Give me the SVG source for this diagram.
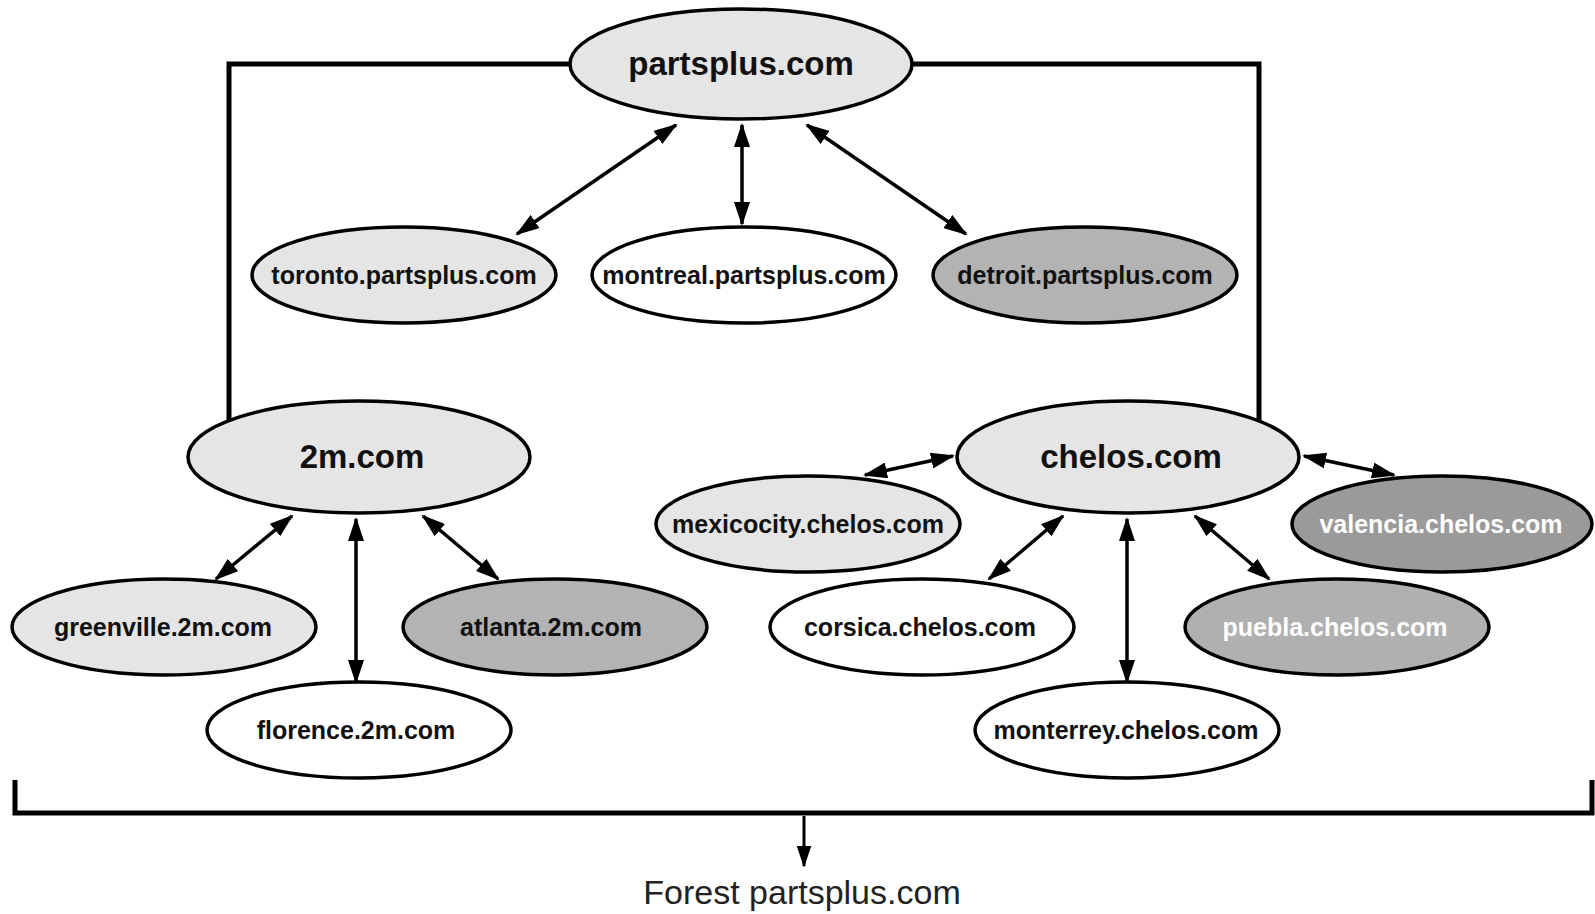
<svg xmlns="http://www.w3.org/2000/svg" width="1595" height="914" viewBox="0 0 1595 914">
<style>
.n{stroke:#000;stroke-width:3.5}
.l{fill:#e5e5e5}.w{fill:#fff}.m{fill:#b3b3b3}.d{fill:#9a9a9a}.p{fill:#b0b0b0}
.t{font-family:"Liberation Sans",Arial,sans-serif;font-weight:bold;font-size:25px;text-anchor:middle;fill:#111}
.b{font-size:33px}
.wt{fill:#fff}
.c{stroke:#000;stroke-width:3.5;fill:none;marker-start:url(#a);marker-end:url(#a)}
.f{stroke:#000;stroke-width:5;fill:none}
</style>
<defs>
<marker id="a" viewBox="0 0 24 16" refX="22" refY="8" markerWidth="24" markerHeight="16" markerUnits="userSpaceOnUse" orient="auto-start-reverse">
<path d="M0,0 L24,8 L0,16 z" fill="#000"/>
</marker>
<marker id="s" viewBox="0 0 24 16" refX="22" refY="8" markerWidth="22" markerHeight="15" markerUnits="userSpaceOnUse" orient="auto">
<path d="M0,0 L24,8 L0,16 z" fill="#000"/>
</marker>
</defs>
<g id="connectors">
<polyline class="f" points="229,425 229,64 575,64"/>
<polyline class="f" points="908,64 1259,64 1259,425"/>
<line class="c" x1="676" y1="125" x2="517" y2="234"/>
<line class="c" x1="742" y1="125" x2="742" y2="224"/>
<line class="c" x1="807" y1="125" x2="966" y2="234"/>
<line class="c" x1="292" y1="516" x2="216" y2="579"/>
<line class="c" x1="356" y1="519" x2="356" y2="682"/>
<line class="c" x1="423" y1="516" x2="498" y2="579"/>
<line class="c" x1="953" y1="456" x2="865" y2="475"/>
<line class="c" x1="1304" y1="456" x2="1394" y2="475"/>
<line class="c" x1="1063" y1="516" x2="989" y2="579"/>
<line class="c" x1="1127" y1="519" x2="1127" y2="682"/>
<line class="c" x1="1195" y1="516" x2="1269" y2="579"/>
<polyline class="f" points="15,780 15,813 1592,813 1592,780" stroke-width="6"/>
<line x1="804" y1="816" x2="804" y2="866" stroke="#000" stroke-width="3" marker-end="url(#s)"/>
</g>
<g id="partsplus"><ellipse class="n l" cx="741" cy="64" rx="171" ry="55"/><text class="t b" x="741" y="75">partsplus.com</text></g>
<g id="toronto"><ellipse class="n l" cx="404" cy="275" rx="152" ry="48"/><text class="t" x="404" y="284">toronto.partsplus.com</text></g>
<g id="montreal"><ellipse class="n w" cx="744" cy="275" rx="152" ry="48"/><text class="t" x="744" y="284">montreal.partsplus.com</text></g>
<g id="detroit"><ellipse class="n m" cx="1085" cy="275" rx="152" ry="48"/><text class="t" x="1085" y="284">detroit.partsplus.com</text></g>
<g id="2m"><ellipse class="n l" cx="359" cy="457" rx="171" ry="56"/><text class="t b" x="362" y="468">2m.com</text></g>
<g id="chelos"><ellipse class="n l" cx="1128" cy="457" rx="171" ry="56"/><text class="t b" x="1131" y="468">chelos.com</text></g>
<g id="mexicocity"><ellipse class="n l" cx="808" cy="524" rx="152" ry="48"/><text class="t" x="808" y="533">mexicocity.chelos.com</text></g>
<g id="valencia"><ellipse class="n d" cx="1442" cy="524" rx="150" ry="48"/><text class="t wt" x="1441" y="533">valencia.chelos.com</text></g>
<g id="greenville"><ellipse class="n l" cx="164" cy="627" rx="152" ry="48"/><text class="t" x="163" y="636">greenville.2m.com</text></g>
<g id="atlanta"><ellipse class="n m" cx="555" cy="627" rx="152" ry="48"/><text class="t" x="551" y="636">atlanta.2m.com</text></g>
<g id="florence"><ellipse class="n w" cx="359" cy="730" rx="152" ry="48"/><text class="t" x="356" y="739">florence.2m.com</text></g>
<g id="corsica"><ellipse class="n w" cx="922" cy="627" rx="152" ry="48"/><text class="t" x="920" y="636">corsica.chelos.com</text></g>
<g id="puebla"><ellipse class="n p" cx="1337" cy="627" rx="152" ry="48"/><text class="t wt" x="1335" y="636">puebla.chelos.com</text></g>
<g id="monterrey"><ellipse class="n w" cx="1127" cy="730" rx="152" ry="48"/><text class="t" x="1126" y="739">monterrey.chelos.com</text></g>
<text x="802" y="904" font-family="Liberation Sans,Arial,sans-serif" font-size="34" text-anchor="middle" fill="#222">Forest partsplus.com</text>
</svg>
